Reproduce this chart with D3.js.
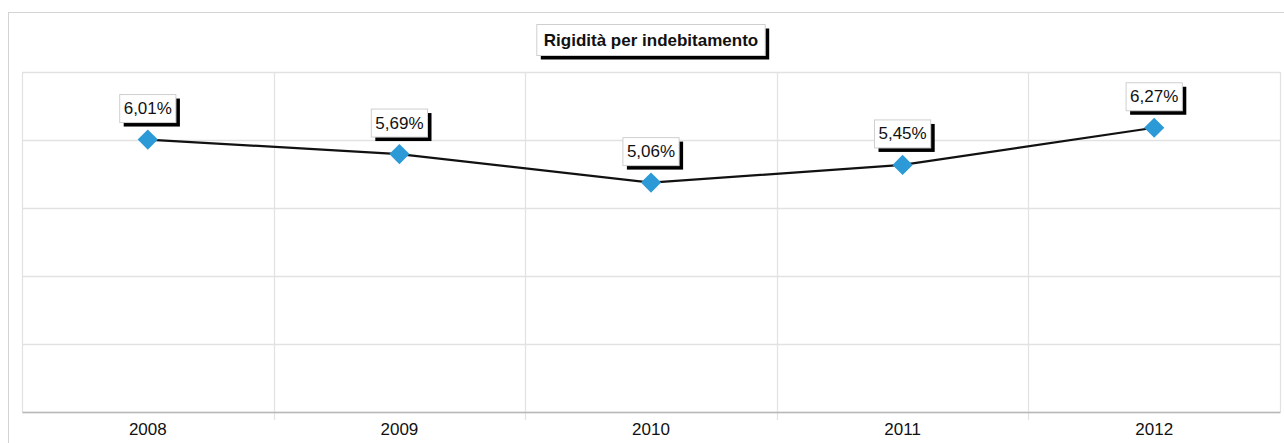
<!DOCTYPE html>
<html>
<head>
<meta charset="utf-8">
<script src="https://cdn.jsdelivr.net/npm/d3@7"></script>
<style>
  body { margin: 0; background: #fff; }
  svg { font-family: "Liberation Sans", Arial, sans-serif; }
</style>
</head>
<body>
<div id="chart"></div>
<script>
// Data
const years = ["2008", "2009", "2010", "2011", "2012"];
const values = [6.01, 5.69, 5.06, 5.45, 6.27];
const yTicks = [0, 1.5, 3, 4.5, 6, 7.5];
const title = "Rigidità per indebitamento";

const W = 1284, H = 443;
const margin = { top: 72, right: 4, bottom: 31, left: 22 };
const width = W - margin.left - margin.right;
const height = H - margin.top - margin.bottom;

const svg = d3.select("#chart").append("svg")
    .attr("width", W)
    .attr("height", H);

// outer frame
svg.append("rect")
    .attr("x", 8.5).attr("y", 12.5)
    .attr("width", W + 10).attr("height", H + 10)
    .attr("fill", "none")
    .attr("stroke", "#d4d4d4");

const g = svg.append("g")
    .attr("transform", "translate(" + margin.left + "," + margin.top + ")");

const x = d3.scaleBand().domain(years).range([0, width]).padding(0);
const y = d3.scaleLinear().domain([0, 7.5]).range([height, 0]);

// horizontal grid
g.selectAll(".hgrid")
    .data(yTicks)
    .enter().append("line")
    .attr("x1", 0).attr("x2", width)
    .attr("y1", d => Math.round(y(d)) + 0.5)
    .attr("y2", d => Math.round(y(d)) + 0.5)
    .attr("stroke", "#e2e2e2")
    .attr("stroke-width", 1.5);

// vertical grid at category boundaries
const bounds = years.map(d => x(d)).concat([width]);
g.selectAll(".vgrid")
    .data(bounds)
    .enter().append("line")
    .attr("x1", d => Math.round(d) + 0.5)
    .attr("x2", d => Math.round(d) + 0.5)
    .attr("y1", 0)
    .attr("y2", (d, i) => (i > 0 && i < bounds.length - 1) ? height + 8 : height)
    .attr("stroke", "#e2e2e2")
    .attr("stroke-width", 1.2);

// x axis
const xAxis = g.append("g")
    .attr("transform", "translate(0," + height + ")")
    .call(d3.axisBottom(x).tickSize(0).tickPadding(11));
xAxis.select(".domain").attr("stroke", "#b8b8b8").attr("stroke-width", 1.5);
xAxis.selectAll("text")
    .attr("font-size", 17)
    .attr("fill", "#111")
    .attr("font-family", "Liberation Sans, Arial, sans-serif");

// line
const line = d3.line()
    .x((d, i) => x(years[i]) + x.bandwidth() / 2)
    .y(d => y(d));

g.append("path")
    .datum(values)
    .attr("fill", "none")
    .attr("stroke", "#111")
    .attr("stroke-width", 2.2)
    .attr("d", line);

// markers
g.selectAll(".marker")
    .data(values)
    .enter().append("path")
    .attr("transform", (d, i) => "translate(" + (x(years[i]) + x.bandwidth() / 2) + "," + y(d) + ")")
    .attr("d", d3.symbol().type(d3.symbolDiamond2).size(260))
    .attr("fill", "#2c9ad6");

// labeled box with shadow
function labelBox(parent, cx, cy, text, opts) {
    const t = parent.append("text")
        .attr("x", cx).attr("y", cy)
        .attr("text-anchor", "middle")
        .attr("dominant-baseline", "central")
        .attr("font-size", opts.size)
        .attr("font-weight", opts.bold ? "bold" : "normal")
        .attr("fill", "#111")
        .text(text);
    const bb = t.node().getBBox();
    const bw = bb.width + opts.padX * 2, bh = opts.h;
    const bx = cx - bw / 2, by = cy - bh / 2;
    parent.insert("rect", function() { return t.node(); })
        .attr("x", bx + 4).attr("y", by + 4)
        .attr("width", bw).attr("height", bh)
        .attr("fill", "#000");
    parent.insert("rect", function() { return t.node(); })
        .attr("x", bx).attr("y", by)
        .attr("width", bw).attr("height", bh)
        .attr("fill", "#fff")
        .attr("stroke", "#cfcfcf")
        .attr("stroke-width", 1);
}

// value labels
values.forEach((v, i) => {
    const cx = x(years[i]) + x.bandwidth() / 2;
    labelBox(g, cx, y(v) - 31, v.toFixed(2).replace(".", ",") + "%",
        { size: 17, bold: false, padX: 4, h: 28 });
});

// title
labelBox(svg, 651, 40, title, { size: 17, bold: true, padX: 7, h: 31 });
</script>
</body>
</html>
